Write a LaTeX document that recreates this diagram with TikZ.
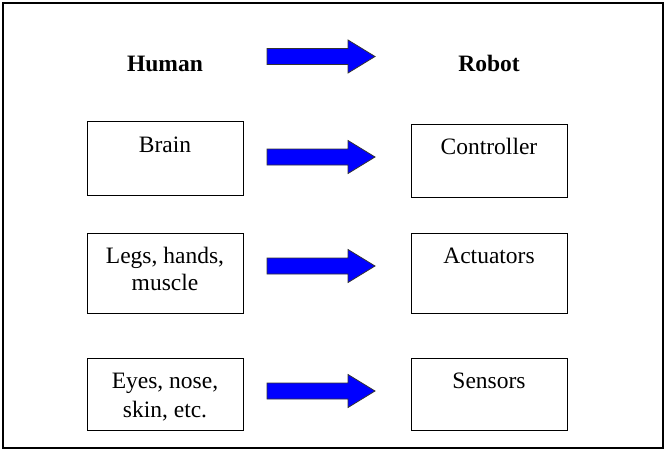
\documentclass[tikz,border=0pt]{standalone}
\usepackage{fontspec}
\setmainfont{Liberation Serif}
\begin{document}
\begin{tikzpicture}[x=1pt,y=-1pt,
  box/.style={draw=black,line width=1pt,inner sep=0pt,minimum width=156pt},
  txt/.style={anchor=base,inner sep=0pt,font=\fontsize{23.5}{28}\selectfont},
  btxt/.style={txt,font=\fontsize{23.5}{28}\selectfont\bfseries},
  blockarrow/.style={draw=black!80,line width=0.8pt,fill=blue,line join=miter}]
\useasboundingbox (0,0) rectangle (668,452);
\draw[line width=1.3pt] (3,3) rectangle (663,448);
% headers
\node[btxt] (human) at (165,71.5) {Human};
\node[btxt] (robot) at (489,71.5) {Robot};
% boxes
\node[box,minimum height=74pt] (brain) at (165,158.5) {};
\node[box,minimum height=73pt] (ctrl) at (489,160.5) {};
\node[box,minimum height=80pt] (legs) at (165,273) {};
\node[box,minimum height=80pt] (act) at (489,273) {};
\node[box,minimum height=72pt] (eyes) at (165,394) {};
\node[box,minimum height=72pt] (sens) at (489,394) {};
% texts
\node[txt] (tbrain) at (165,152.5) {Brain};
\node[txt] (tctrl) at (489,154.5) {Controller};
\node[txt] (tlegsa) at (165,263) {Legs, hands,};
\node[txt] (tlegsb) at (165,290.5) {muscle};
\node[txt] (tact) at (489,263) {Actuators};
\node[txt] (teyesa) at (165,388) {Eyes, nose,};
\node[txt] (teyesb) at (165,417.5) {skin, etc.};
\node[txt] (tsens) at (489,388) {Sensors};
% block arrows
\foreach \yy in {56.5,157,266,391}{
  \draw[blockarrow] (267,\yy-8) -- (348,\yy-8) -- (348,\yy-16.5) -- (375,\yy)
    -- (348,\yy+16.5) -- (348,\yy+8) -- (267,\yy+8) -- cycle;
}
\end{tikzpicture}
\end{document}
